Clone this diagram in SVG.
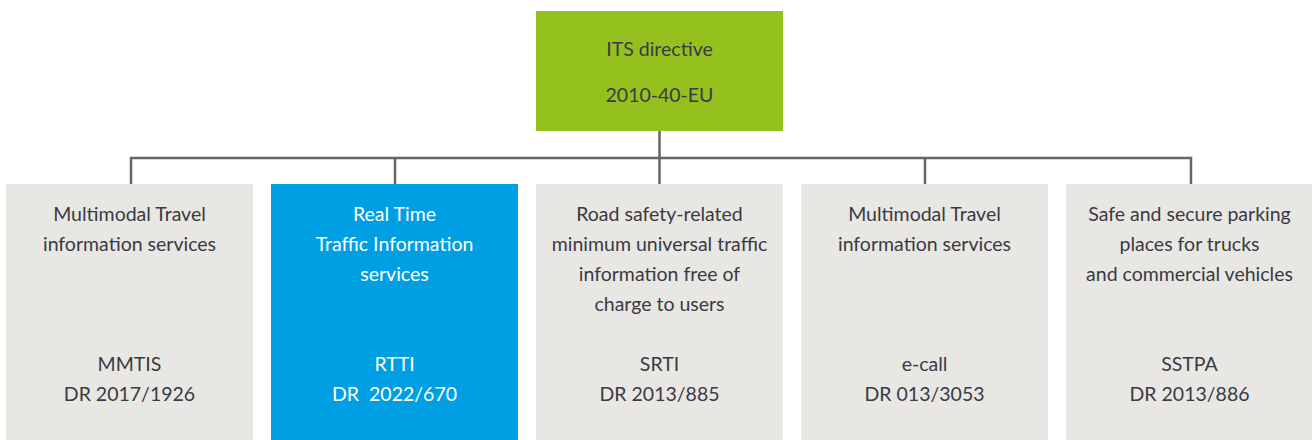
<svg xmlns="http://www.w3.org/2000/svg" width="1312" height="440" viewBox="0 0 1312 440">
<style>
.box{fill:#e8e7e3}
.t{font-family:Lato,"Open Sans",sans-serif;font-size:19.5px;fill:#3a3a42;text-anchor:middle}
.w{fill:#ffffff}
.c{stroke:#666666;stroke-width:2.5;fill:none}
</style>
<rect width="1312" height="440" fill="#ffffff"/>
<g id="connectors">
<path class="c" d="M659.5 131V184M131 184V158H1191V184M395 158V184M925 158V184"/>
</g>
<g id="its">
<rect x="536" y="11" width="247" height="120" fill="#95c11f"/>
<text class="t" x="659.5" y="56">ITS directive</text>
<text class="t" x="659.5" y="102">2010-40-EU</text>
</g>
<g id="mmtis">
<rect class="box" x="6" y="184" width="247" height="256"/>
<text class="t" x="129.5" y="221">Multimodal Travel</text>
<text class="t" x="129.5" y="251">information services</text>
<text class="t" x="129.5" y="371">MMTIS</text>
<text class="t" x="129.5" y="401">DR 2017/1926</text>
</g>
<g id="rtti">
<rect x="271" y="184" width="247" height="256" fill="#009fe3"/>
<text class="t w" x="394.5" y="221">Real Time</text>
<text class="t w" x="394.5" y="251">Traffic Information</text>
<text class="t w" x="394.5" y="281">services</text>
<text class="t w" x="394.5" y="371" xml:space="preserve">RTTI</text>
<text class="t w" x="394.5" y="401" xml:space="preserve">DR  2022/670</text>
</g>
<g id="srti">
<rect class="box" x="536" y="184" width="247" height="256"/>
<text class="t" x="659.5" y="221">Road safety-related</text>
<text class="t" x="659.5" y="251">minimum universal traffic</text>
<text class="t" x="659.5" y="281">information free of</text>
<text class="t" x="659.5" y="311">charge to users</text>
<text class="t" x="659.5" y="371">SRTI</text>
<text class="t" x="659.5" y="401">DR 2013/885</text>
</g>
<g id="ecall">
<rect class="box" x="801" y="184" width="247" height="256"/>
<text class="t" x="924.5" y="221">Multimodal Travel</text>
<text class="t" x="924.5" y="251">information services</text>
<text class="t" x="924.5" y="371">e-call</text>
<text class="t" x="924.5" y="401">DR 013/3053</text>
</g>
<g id="sstpa">
<rect class="box" x="1066" y="184" width="247" height="256"/>
<text class="t" x="1189.5" y="221">Safe and secure parking</text>
<text class="t" x="1189.5" y="251">places for trucks</text>
<text class="t" x="1189.5" y="281">and commercial vehicles</text>
<text class="t" x="1189.5" y="371">SSTPA</text>
<text class="t" x="1189.5" y="401">DR 2013/886</text>
</g>
</svg>
